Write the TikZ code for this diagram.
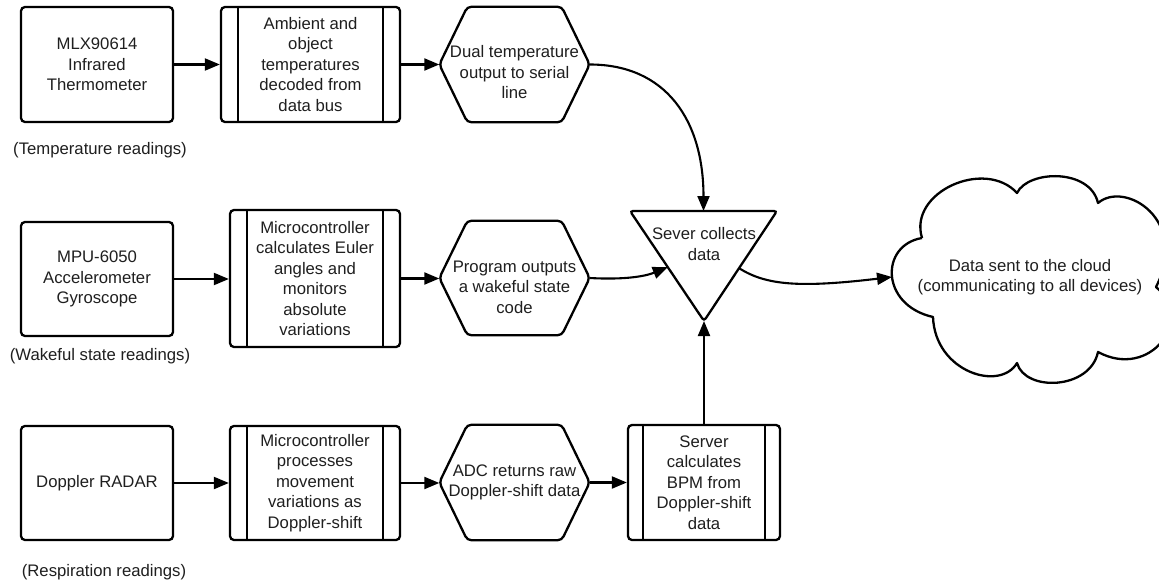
\documentclass[tikz,border=0pt]{standalone}
\usepackage{fontspec}
\setmainfont{Liberation Sans}
\usetikzlibrary{arrows.meta,calc}
\newcommand{\hexo}[1]{\draw[shapeline] (#1.west) -- ([xshift=28pt]#1.north west) -- ([xshift=-28pt]#1.north east) -- (#1.east) -- ([xshift=-28pt]#1.south east) -- ([xshift=28pt]#1.south west) -- cycle;}
\begin{document}
\begin{tikzpicture}[x=1pt,y=1pt,
  every node/.style={font=\fontsize{16.7}{20.5}\selectfont, text=black!88, align=center, inner sep=0pt},
  shapeline/.style={draw=black, line width=2.3pt, rounded corners=4pt},
  sbox/.style={shapeline},
  pbox/.style={shapeline, path picture={
      \draw[line width=2.3pt] ([xshift=#1]path picture bounding box.north west) -- ([xshift=#1]path picture bounding box.south west);
      \draw[line width=2.3pt] ([xshift=-#1]path picture bounding box.north east) -- ([xshift=-#1]path picture bounding box.south east);}},
  pbox/.default=17pt,
  hexbox/.style={minimum width=150, minimum height=115},
  conn/.style={draw=black, line width=2.1pt, -{Triangle[length=15pt,width=12pt]}}
]
\useasboundingbox[fill=white] (0,0) rectangle (1159,-583);
\clip (0,0) rectangle (1159,-583);

% Row 1
\node[sbox, minimum width=152, minimum height=115] (b11) at (97,-64.5) {MLX90614\\Infrared\\Thermometer};
\node[pbox, minimum width=179, minimum height=115] (b12) at (310.5,-64.5) {Ambient and\\object\\temperatures\\decoded from\\data bus};
\node[hexbox] (h1) at (514.5,-64.5) {};
\hexo{h1}
\node (h1t) at ([yshift=-8pt]h1.center) {Dual temperature\\output to serial\\line};
\node (l1) at (100,-150) {(Temperature readings)};

% Row 2
\node[sbox, minimum width=152, minimum height=114] (b21) at (97,-279) {MPU-6050\\Accelerometer\\Gyroscope};
\node[pbox, minimum width=170, minimum height=137] (b22) at (315,-278.5) {Microcontroller\\calculates Euler\\angles and\\monitors\\absolute\\variations};
\node[hexbox, minimum height=114] (h2) at (514.5,-278) {};
\hexo{h2}
\node (h2t) at ([yshift=-9pt]h2.center) {Program outputs\\a wakeful state\\code};
\node (l2) at (100,-356) {(Wakeful state readings)};

% Row 3
\node[sbox, minimum width=152, minimum height=114] (b31) at (97,-483) {Doppler RADAR};
\node[pbox, minimum width=170, minimum height=114] (b32) at (315,-483) {Microcontroller\\processes\\movement\\variations as\\Doppler-shift};
\node[hexbox] (h3) at (514.5,-482.5) {};
\hexo{h3}
\node (h3t) at (h3.center) {ADC returns raw\\Doppler-shift data};
\node[pbox=15pt, minimum width=152, minimum height=115] (b34) at (704,-482.5) {Server\\calculates\\BPM from\\Doppler-shift\\data};
\node (l3) at (104,-572) {(Respiration readings)};

% Server triangle
\coordinate (tL) at (630,-211);
\coordinate (tR) at (777,-211);
\coordinate (tB) at (704,-321);
\draw[shapeline, rounded corners=3pt] (tL) -- (tR) -- (tB) -- cycle;
\node (srv) at (704,-244) {Sever collects\\data};
\coordinate (tTop) at ($(tL)!0.5!(tR)$);
\coordinate (tLe) at ($(tL)!0.51!(tB)$);
\coordinate (tRe) at ($(tR)!0.52!(tB)$);

% Cloud
\coordinate (cA) at (922,-238);
\coordinate (cB) at (1017,-193);
\coordinate (cC) at (1098,-203);
\coordinate (cD) at (1156,-287);
\coordinate (cE) at (1098,-352);
\coordinate (cF) at (1017,-363);
\coordinate (cG) at (933,-317);
\draw[draw=black, line width=2.3pt, line join=round]
  (cA) .. controls (908,-192) and (985,-158) .. (cB)
       .. controls (1028,-170) and (1090,-168) .. (cC)
       .. controls (1125,-180) and (1190,-220) .. (cD)
       .. controls (1195,-320) and (1150,-380) .. (cE)
       .. controls (1090,-390) and (1025,-392) .. (cF)
       .. controls (1000,-392) and (935,-372) .. (cG)
       .. controls (880,-305) and (880,-245) .. (cA);
\coordinate (cloudL) at (892,-277);
\node (cloud) at (1030,-277) {Data sent to the cloud\\(communicating to all devices)};

% Connectors
\draw[conn] (b11.east) -- (b11.east -| b12.west);
\draw[conn] (b12.east) -- (h1.west);
\draw[conn] (b21.east) -- (b21.east -| b22.west);
\draw[conn] (b22.east) -- (b22.east -| h2.west);
\draw[conn] (b31.east) -- (b31.east -| b32.west);
\draw[conn] (b32.east) -- (b32.east -| h3.west);
\draw[conn] (h3.east) -- (h3.east -| b34.west);
\draw[conn] (h1.east) .. controls +(76,0) and +(0,91) .. (tTop);
\draw[conn] (h2.east) .. controls +(36,-2) and +(-22,-9) .. (tLe);
\draw[conn] (tRe) .. controls +(27,-17) and +(-93,-11) .. (cloudL);
\draw[conn] (b34.north) -- (tB);
\end{tikzpicture}
\end{document}
